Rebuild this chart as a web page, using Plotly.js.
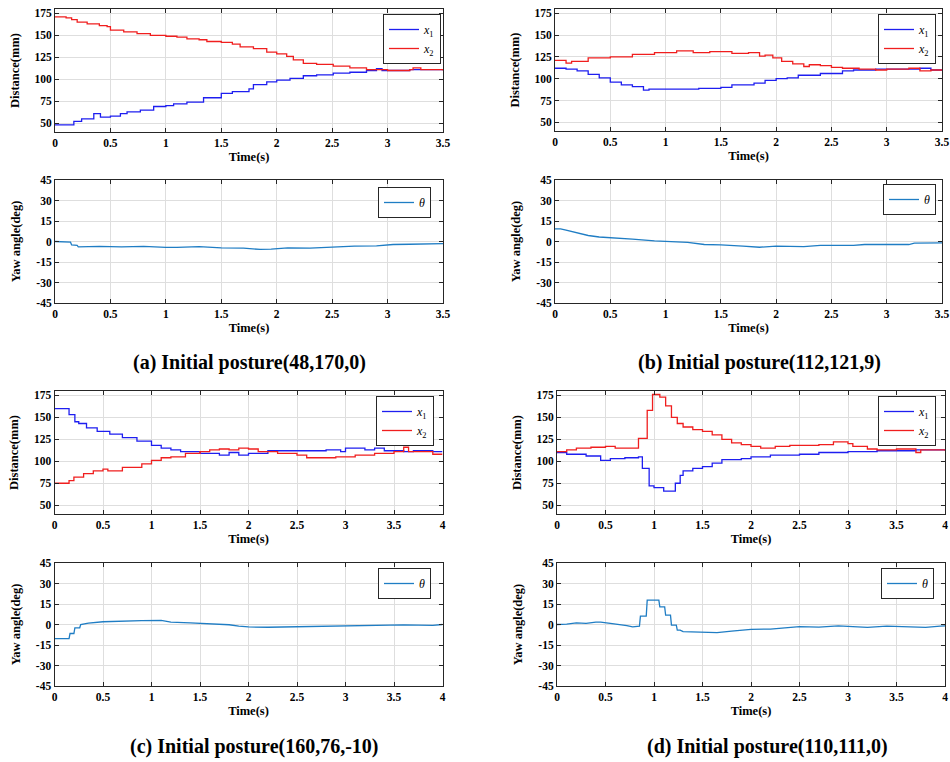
<!DOCTYPE html>
<html>
<head>
<meta charset="utf-8">
<script src="https://cdn.plot.ly/plotly-3.0.1.min.js"></script>
<style>html,body{margin:0;padding:0;background:#fff;}#chart{width:950px;height:762px;}</style>
</head>
<body>
<div id="chart"></div>
<script>
// ---------- Data ----------
// (a) Initial posture(48,170,0)
const a_x1_t = [0,0.17,0.24,0.35,0.41,0.5,0.59,0.65,0.77,0.89,1.0,1.07,1.19,1.34,1.5,1.6,1.75,1.79,1.91,2.0,2.12,2.24,2.36,2.51,2.66,2.81,2.9,2.95,3.2,3.5];
const a_x1_v = [48,52,55,61,57,58,61,63,65,69,70,72,74,79,84,86,89,94,97,99,101,104,105,107,108,110,112,110,111,111];
const a_x2_t = [0,0.1,0.15,0.2,0.29,0.4,0.47,0.5,0.62,0.74,0.86,1.0,1.1,1.19,1.3,1.37,1.5,1.6,1.67,1.79,1.91,2.0,2.09,2.15,2.24,2.36,2.51,2.66,2.81,3.0,3.2,3.23,3.3,3.5];
const a_x2_v = [171,170,168,165,163,161,160,156,154,152,150,149,148,146,145,143,142,140,137,135,131,129,126,122,118,117,115,113,111,110,111,113,111,110];
const a_th_t = [0,0.1,0.14,0.15,0.2,0.21,0.4,0.6,0.8,1.0,1.1,1.3,1.5,1.7,1.85,1.95,2.1,2.3,2.5,2.7,2.9,3.05,3.2,3.4,3.5];
const a_th_v = [0,0,-0.5,-2.5,-2.8,-3.9,-3.6,-3.9,-3.6,-4.3,-4.3,-3.7,-4.6,-4.9,-5.8,-5.6,-4.7,-4.9,-4.0,-3.4,-3.2,-2.2,-2.0,-2.0,-1.6];

// (b) Initial posture(112,121,9)
const b_x1_t = [0,0.1,0.2,0.3,0.4,0.5,0.6,0.7,0.8,0.85,1.3,1.5,1.6,1.8,1.9,2.0,2.1,2.2,2.4,2.6,2.7,2.9,3.3,3.4,3.5];
const b_x1_v = [112,111,109,105,101,96,93,91,87,88,89,90,93,95,98,100,101,104,106,109,110,111,112,110,110];
const b_x2_t = [0,0.1,0.15,0.3,0.5,0.7,0.9,1.1,1.25,1.4,1.6,1.75,1.85,1.9,1.97,2.05,2.15,2.25,2.3,2.4,2.5,2.6,2.75,2.9,3.0,3.2,3.3,3.4,3.5];
const b_x2_v = [121,118,120,124,125,128,130,132,130,131,129,130,126,127,124,120,117,114,116,115,113,112,111,110,111,112,109,110,110];
const b_th_t = [0,0.05,0.1,0.2,0.3,0.4,0.5,0.7,0.9,1.0,1.2,1.35,1.5,1.7,1.85,2.0,2.25,2.4,2.7,2.8,3.0,3.2,3.25,3.5];
const b_th_v = [9.3,9.3,8.3,6.4,4.4,3.3,2.9,1.7,0.5,0,-0.7,-2.2,-2.4,-3.4,-4.2,-3.4,-3.7,-2.9,-2.9,-2.2,-2.0,-2.2,-1.2,-1.0];

// (c) Initial posture(160,76,-10)
const c_x1_t = [0,0.15,0.21,0.25,0.33,0.44,0.57,0.7,0.85,1.0,1.1,1.2,1.3,1.5,1.7,1.8,1.9,2.0,2.2,2.8,2.95,3.0,3.2,3.3,3.4,3.6,3.7,3.9,4.0];
const c_x1_v = [160,153,145,143,138,134,131,127,123,118,115,113,111,109,107,110,107,109,112,113,111,115,113,115,112,111,112,111,111];
const c_x2_t = [0,0.15,0.2,0.3,0.4,0.5,0.55,0.7,0.9,1.0,1.1,1.2,1.35,1.5,1.6,1.7,1.8,1.9,2.0,2.1,2.3,2.5,2.6,2.9,3.1,3.3,3.5,3.6,3.65,3.7,3.9,4.0];
const c_x2_v = [75,78,82,86,89,91,89,93,97,101,104,105,109,111,113,114,113,115,114,111,109,107,104,105,107,109,111,116,111,111,108,108];
const c_th_t = [0,0.15,0.16,0.2,0.21,0.26,0.27,0.35,0.5,0.7,0.9,1.1,1.2,1.4,1.6,1.8,1.9,2.0,2.2,2.4,2.6,3.0,3.5,3.6,3.9,4.0];
const c_th_v = [-10.3,-10.3,-6.6,-6.6,-2.4,-2.4,0,1.0,2.0,2.6,2.9,3.0,1.8,1.2,0.5,-0.2,-1.2,-1.8,-2.0,-1.8,-1.2,-0.8,-0.5,-0.3,-0.6,0];

// (d) Initial posture(110,111,0)
const d_x1_t = [0,0.1,0.3,0.45,0.55,0.7,0.84,0.88,0.95,1.0,1.1,1.22,1.27,1.3,1.4,1.5,1.6,1.7,1.9,2.0,2.2,2.5,2.7,3.0,3.3,3.7,4.0];
const d_x1_v = [110,108,106,101,103,104,105,92,72,70,66,75,84,89,92,94,98,102,103,105,107,108,110,111,112,113,113];
const d_x2_t = [0,0.1,0.2,0.35,0.5,0.6,0.84,0.93,0.985,1.06,1.12,1.18,1.24,1.3,1.4,1.5,1.6,1.7,1.8,1.9,2.0,2.1,2.25,2.4,2.7,2.85,3.0,3.05,3.2,3.3,3.5,3.7,3.75,3.8,4.0];
const d_x2_v = [111,113,115,116,117,115,126,158,176,173,163,150,143,139,136,134,130,125,121,119,117,115,117,118,119,122,120,117,114,113,114,110,113,113,112];
const d_th_t = [0,0.1,0.2,0.3,0.4,0.45,0.55,0.65,0.72,0.78,0.85,0.86,0.92,0.93,1.05,1.06,1.11,1.12,1.17,1.18,1.23,1.24,1.27,1.3,1.45,1.65,1.8,2.0,2.2,2.3,2.5,2.7,2.9,3.0,3.2,3.4,3.6,3.8,3.95,4.0];
const d_th_v = [0,0.3,1.2,0.8,1.7,1.7,0.8,0,-0.8,-1.7,-1.2,6.1,6.1,17.8,17.8,12.9,12.9,6.8,6.8,-0.5,-0.5,-4.1,-4.1,-5.2,-5.6,-6.0,-4.8,-3.5,-3.4,-2.6,-1.5,-1.9,-1.0,-1.3,-2.1,-1.2,-1.8,-2.1,-1.2,-1.0];

const captions = ["(a) Initial posture(48,170,0)", "(b) Initial posture(112,121,9)", "(c) Initial posture(160,76,-10)", "(d) Initial posture(110,111,0)"];
const distTicks = [50,75,100,125,150,175];
const yawTicks = [-45,-30,-15,0,15,30,45];
const timeTicks35 = [0,0.5,1,1.5,2,2.5,3,3.5];
const timeTicks4 = [0,0.5,1,1.5,2,2.5,3,3.5,4];

// ---------- Layout helpers ----------
const W = 950, H = 762;
const SERIF = "Liberation Serif";
const BLUE = "rgb(30,30,240)", RED = "rgb(240,30,30)", THETA = "#1f7dc4";
const AX = "#262626";

// plot boxes in pixels: [left, right, top, bottom]
const boxes = [
  [55, 443, 9, 132],
  [55, 443, 180, 303],
  [555, 942, 9, 131],
  [555, 942, 180, 303],
  [54.5, 442.5, 391, 514],
  [54.5, 442.5, 563, 686],
  [557, 945, 391, 514],
  [557, 945, 563, 686]
];
const legendPos = [[441,14],[431,187],[936,14],[936,184],[434,396],[431,568],[936,396],[934,568]];

const traces = [];
const layout = {
  width: W, height: H,
  margin: {l:0, r:0, t:0, b:0},
  paper_bgcolor: "#fff", plot_bgcolor: "#fff",
  font: {family: SERIF, color: "#000"},
  showlegend: true,
  annotations: []
};

function suffix(i){ return i === 0 ? "" : String(i+1); }

const panels = [
  {dist: [[a_x1_t,a_x1_v],[a_x2_t,a_x2_v]], yaw: [a_th_t,a_th_v], ticks: timeTicks35, xmax: 3.5},
  {dist: [[b_x1_t,b_x1_v],[b_x2_t,b_x2_v]], yaw: [b_th_t,b_th_v], ticks: timeTicks35, xmax: 3.5},
  {dist: [[c_x1_t,c_x1_v],[c_x2_t,c_x2_v]], yaw: [c_th_t,c_th_v], ticks: timeTicks4, xmax: 4},
  {dist: [[d_x1_t,d_x1_v],[d_x2_t,d_x2_v]], yaw: [d_th_t,d_th_v], ticks: timeTicks4, xmax: 4}
];

panels.forEach((p, pi) => {
  const iTop = pi*2, iBot = pi*2+1;
  [iTop, iBot].forEach((i) => {
    const b = boxes[i];
    const s = suffix(i);
    const isTop = (i === iTop);
    layout["xaxis"+s] = {
      domain: [b[0]/W, b[1]/W],
      anchor: "y"+s,
      range: [0, p.xmax],
      tickvals: p.ticks,
      ticktext: p.ticks.map(String),
      showline: true, mirror: "allticks", linecolor: AX, linewidth: 1,
      ticks: "inside", ticklen: 4, tickcolor: AX,
      showgrid: true, gridcolor: "#dedede", gridwidth: 1,
      zeroline: false,
      tickfont: {family: SERIF, size: 11.5, color: "#000", weight: "bold"},
      title: {text: "Time(s)", font: {family: SERIF, size: 12.5, color: "#000", weight: "bold"}, standoff: 4},
      automargin: false, fixedrange: true
    };
    layout["yaxis"+s] = {
      domain: [1 - b[3]/H, 1 - b[2]/H],
      anchor: "x"+s,
      range: isTop ? [40, 180] : [-45, 45],
      tickvals: isTop ? distTicks : yawTicks,
      ticktext: (isTop ? distTicks : yawTicks).map(String),
      showline: true, mirror: "allticks", linecolor: AX, linewidth: 1,
      ticks: "inside", ticklen: 4, tickcolor: AX,
      showgrid: true, gridcolor: "#dedede", gridwidth: 1,
      zeroline: false,
      tickfont: {family: SERIF, size: 11.5, color: "#000", weight: "bold"},
      title: {text: isTop ? "Distance(mm)" : "Yaw angle(deg)", font: {family: SERIF, size: 12.5, color: "#000", weight: "bold"}, standoff: 12},
      automargin: false, fixedrange: true
    };
    const lp = legendPos[i];
    const lkey = i === 0 ? "legend" : "legend" + (i+1);
    layout[lkey] = {
      x: lp[0]/W, y: 1 - lp[1]/H, xanchor: "right", yanchor: "top",
      xref: "paper", yref: "paper",
      bgcolor: "#fff", bordercolor: AX, borderwidth: 1,
      font: {family: SERIF, size: 12, color: "#000"},
      itemwidth: 30, tracegroupgap: 0, traceorder: "normal"
    };
    if (isTop) {
      const names = ["<i>x</i><sub>1</sub>", "<i>x</i><sub>2</sub>"];
      const cols = [BLUE, RED];
      p.dist.forEach((d, k) => {
        traces.push({
          type: "scatter", mode: "lines", x: d[0], y: d[1],
          line: {color: cols[k], width: 1.3, shape: "hv"},
          name: names[k], xaxis: "x"+s, yaxis: "y"+s, legend: lkey,
          hoverinfo: "skip"
        });
      });
    } else {
      traces.push({
        type: "scatter", mode: "lines", x: p.yaw[0], y: p.yaw[1],
        line: {color: THETA, width: 1.3},
        name: "<i>θ</i>", xaxis: "x"+s, yaxis: "y"+s, legend: lkey,
        hoverinfo: "skip"
      });
    }
  });
});

const capPos = [[249, 362], [759, 362], [254, 746], [767, 746]];
captions.forEach((c, i) => {
  layout.annotations.push({
    text: "<b>" + c + "</b>", xref: "paper", yref: "paper",
    x: capPos[i][0]/W, y: 1 - capPos[i][1]/H,
    xanchor: "center", yanchor: "middle", showarrow: false,
    font: {family: SERIF, size: 20, color: "#000"}
  });
});

Plotly.newPlot("chart", traces, layout, {staticPlot: true, displayModeBar: false});
</script>
</body>
</html>
